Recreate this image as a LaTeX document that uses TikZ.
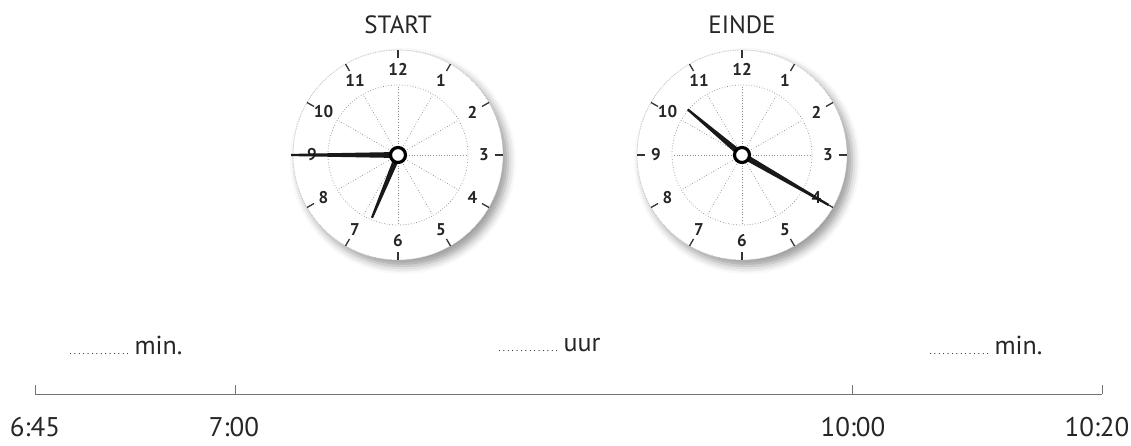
\documentclass[tikz,border=0pt]{standalone}
\usepackage{fontspec}
\setmainfont{PT Sans}
\usetikzlibrary{calc,shadows.blur}
\newcommand{\blankdots}{\textcolor{black!85}{\makebox[62pt]{\fontsize{10}{10}\selectfont\dotfill}}}

\begin{document}
\begin{tikzpicture}[x=1pt, y=1pt,
  face/.style={circle, fill=white, draw=black!25, densely dotted, line width=0.8pt,
               minimum size=210pt, inner sep=0pt,
               blur shadow={shadow xshift=5pt, shadow yshift=-6pt,
                            shadow blur radius=8pt, shadow opacity=40}},
  guide/.style={draw=black!45, dotted, line width=0.7pt},
  tick/.style={draw=black!80, line width=1.3pt},
  num/.style={font=\fontsize{17}{17}\selectfont\bfseries, text=black!85, inner sep=0pt},
  hand/.style={fill=black!90},
  hub/.style={circle, draw=black, line width=3.2pt, fill=white, minimum size=15pt, inner sep=0pt},
  ttl/.style={font=\fontsize{25}{25}\selectfont, text=black!85},
  axis/.style={draw=black!55, line width=1pt},
  time/.style={font=\fontsize{27}{27}\selectfont, text=black!85},
  blank/.style={font=\fontsize{26}{26}\selectfont, text=black!85, anchor=west, inner sep=0pt}]
  \useasboundingbox (0,0) rectangle (1131,445);
  % clocks: name/x/title/hour angle/minute angle/hour length/minute length
  \foreach \n/\cx/\ttl/\ha/\ma/\hl/\ml in {start/398/START/-112.5/180/68/107,
                                          einde/742/EINDE/140/-30/71/100}{
    \coordinate (\n) at (\cx,290);
    \node[face] (\n-face) at (\n) {};
    \draw[guide] (\n) circle[radius=70];
    \foreach \k in {1,...,12}{
      \draw[guide] (\n) -- ($(\n)+({90-30*\k}:70)$);
      \draw[tick] ($(\n)+({90-30*\k}:97)$) -- ($(\n)+({90-30*\k}:105)$);
      \node[num] (\n-\k) at ($(\n)+({90-30*\k}:86)$) {\k};}
    \coordinate (\n-h) at ($(\n)+(\ha:\hl)$);
    \coordinate (\n-m) at ($(\n)+(\ma:\ml)$);
    \foreach \t in {\n-h,\n-m}
      \fill[hand] ($(\n)!3pt!90:(\t)$) -- ($(\t)!1.1pt!-90:(\n)$)
        -- ($(\t)!1.1pt!90:(\n)$) -- ($(\n)!3pt!-90:(\t)$) -- cycle;
    \node[hub] (\n-hub) at (\n) {};
    \node[ttl] (\n-title) at (\cx,420) {\ttl};
  }
  % time line
  \coordinate (t645) at (35,51);
  \coordinate (t700) at (235,51);
  \coordinate (t1000) at (852,51);
  \coordinate (t1020) at (1102,51);
  \draw[axis] (t645) -- (t1020);
  \foreach \t in {t645,t700,t1000,t1020}
    \draw[axis] (\t) -- ++(0,9);
  \node[time] (l645) at (35,18) {6:45};
  \node[time] (l700) at (234,18) {7:00};
  \node[time] (l1000) at (853,18) {10:00};
  \node[time] (l1020) at (1097,18) {10:20};
  \node[blank] (before) at (68,100) {\blankdots\,min.};
  \node[blank] (hours) at (497,100) {\blankdots\,uur};
  \node[blank] (after) at (928,100) {\blankdots\,min.};
\end{tikzpicture}
\end{document}
